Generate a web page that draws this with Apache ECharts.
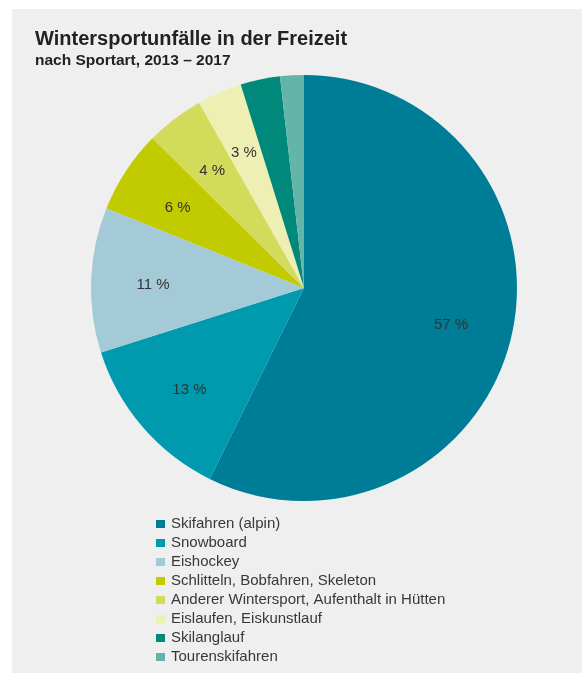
<!DOCTYPE html>
<html>
<head>
<meta charset="utf-8">
<script src="https://cdn.jsdelivr.net/npm/echarts@6/dist/echarts.min.js"></script>
<style>
html,body{margin:0;padding:0;background:#fff;}
#chart{width:582px;height:673px;}
</style>
</head>
<body>
<div id="chart"></div>
<script>
const categories = [
  'Skifahren (alpin)',
  'Snowboard',
  'Eishockey',
  'Schlitteln, Bobfahren, Skeleton',
  'Anderer Wintersport, Aufenthalt in Hütten',
  'Eislaufen, Eiskunstlauf',
  'Skilanglauf',
  'Tourenskifahren'
];
const shares = [57.3, 12.8, 11.0, 6.3, 4.4, 3.4, 3.0, 1.8];
const shareLabels = ['57 %', '13 %', '11 %', '6 %', '4 %', '3 %', '', ''];
const colors = ['#007d96', '#009aaf', '#a4cad8', '#c1cb00', '#d3db5a', '#eef0b3', '#00897a', '#63b5aa'];

const chart = echarts.init(document.getElementById('chart'));
const R = 213;
const pieData = categories.map((c, i) => ({ name: c, value: shares[i], itemStyle: { color: colors[i] } }));
const labelData = categories.map((c, i) => ({ name: c, value: shares[i], itemStyle: { color: 'rgba(0,0,0,0)' } }));

chart.setOption({
  backgroundColor: '#ffffff',
  animation: false,
  graphic: [{
    type: 'rect', z: -10, silent: true,
    shape: { x: 12, y: 9, width: 570, height: 664 },
    style: { fill: '#efefef' }
  }],
  title: {
    text: 'Wintersportunfälle in der Freizeit',
    subtext: 'nach Sportart, 2013 – 2017',
    left: 35, top: 29, padding: 0, itemGap: 4,
    textStyle: { fontFamily: 'Liberation Sans', fontSize: 20, fontWeight: 'bold', color: '#222' },
    subtextStyle: { fontFamily: 'Liberation Sans', fontSize: 15.5, fontWeight: 'bold', color: '#222' }
  },
  legend: {
    orient: 'vertical', left: 156, top: 516, padding: 0, height: 157,
    itemWidth: 9, itemHeight: 8, itemGap: 3,
    icon: 'rect', selectedMode: false,
    data: categories,
    textStyle: { fontFamily: 'Liberation Sans', fontSize: 15, color: '#383838', lineHeight: 16, padding: [0, 0, 0, 1] }
  },
  series: [{
    type: 'pie', center: [304, 288], radius: [0, R], startAngle: 90, clockwise: true,
    data: pieData, label: { show: false }, labelLine: { show: false },
    itemStyle: { borderWidth: 0 }, emphasis: { disabled: true }
  }, {
    type: 'pie', center: [304, 288], radius: [R * 0.39, R], startAngle: 90, clockwise: true,
    data: labelData, silent: true, labelLine: { show: false }, emphasis: { disabled: true },
    label: {
      show: true, position: 'inside', offset: [0, 3],
      fontFamily: 'Liberation Sans', fontSize: 15, color: '#333',
      formatter: p => shareLabels[p.dataIndex]
    }
  }]
});
</script>
</body>
</html>
